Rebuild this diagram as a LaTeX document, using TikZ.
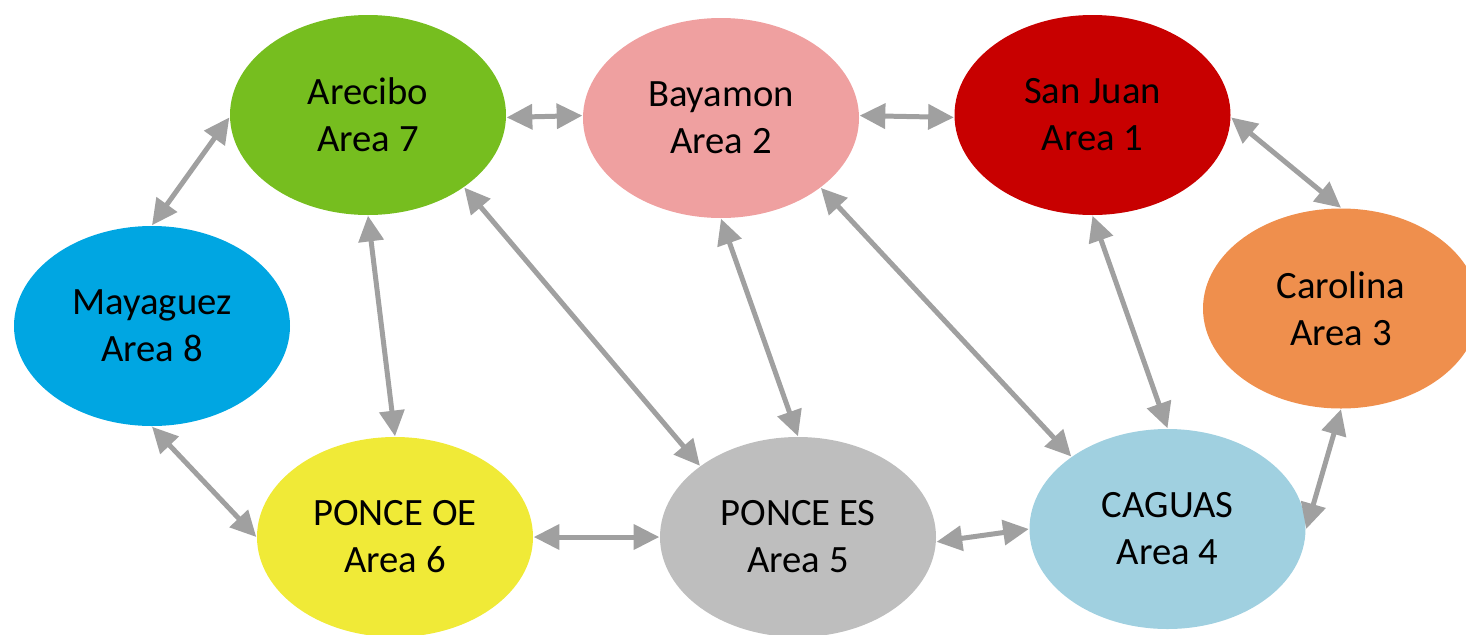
\documentclass[tikz,border=0pt]{standalone}
\usepackage{fontspec}
\setmainfont{Carlito}
\usetikzlibrary{shapes.geometric,arrows.meta}

\definecolor{areagreen}{RGB}{118,190,31}
\definecolor{areapink}{RGB}{239,160,160}
\definecolor{areared}{RGB}{200,0,0}
\definecolor{areaorange}{RGB}{239,143,77}
\definecolor{areablue}{RGB}{0,166,226}
\definecolor{areayellow}{RGB}{240,234,55}
\definecolor{areagray}{RGB}{190,190,190}
\definecolor{arealightblue}{RGB}{160,208,224}
\definecolor{linkgray}{RGB}{160,160,160}

\tikzset{
  area/.style={ellipse, minimum width=2.76cm, minimum height=2.0cm, inner sep=0pt,
    align=center, font=\fontsize{11}{13.4}\selectfont},
  link/.style={linkgray, line width=1.42pt, {Triangle[length=7.3pt,width=7pt]}-{Triangle[length=7.3pt,width=7pt]}}
}

\begin{document}
\begin{tikzpicture}
\useasboundingbox (0,0) rectangle (14.66,6.34);

% Areas
\node[area, fill=areagreen] (are) at (3.68,5.19) {Arecibo\\Area 7};
\node[area, fill=areapink] (bay) at (7.21,5.16) {Bayamon\\Area 2};
\node[area, fill=areared] (sj) at (10.925,5.19) {San Juan\\Area 1};
\node[area, fill=areaorange] (car) at (13.41,3.255) {Carolina\\Area 3};
\node[area, fill=areablue] (may) at (1.52,3.08) {Mayaguez\\Area 8};
\node[area, fill=areayellow] (poe) at (3.95,0.97) {PONCE OE\\Area 6};
\node[area, fill=areagray] (pes) at (7.98,0.97) {PONCE ES\\Area 5};
\node[area, fill=arealightblue] (cag) at (11.675,1.05) {CAGUAS\\Area 4};

% Links between areas
\foreach \a/\b in {are.-1/bay.179, bay.1/sj.181, sj.-1/car.north,
                   are.181/may.north, are.south/poe.north, are.-37/pes.144,
                   bay.south/pes.north, bay.-35/cag.143, sj.south/cag.north,
                   may.south/poe.west, poe.east/pes.west, pes.-2/cag.west,
                   cag.east/car.south} {
    \draw[link] (\a) -- (\b);
}

\end{tikzpicture}
\end{document}
